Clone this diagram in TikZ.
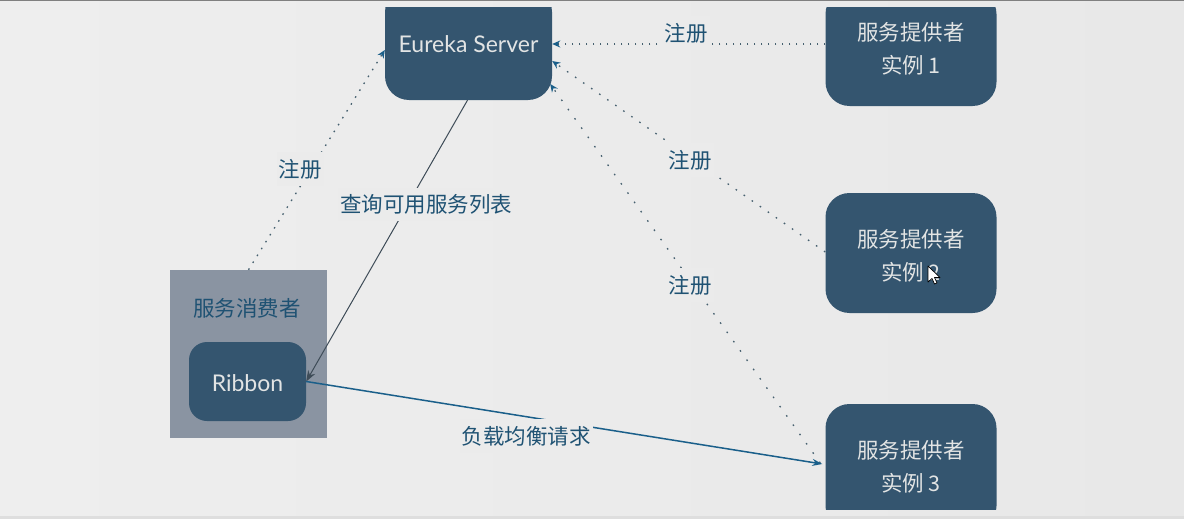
\documentclass[tikz,border=0pt]{standalone}
\usepackage{fontspec}
\setmainfont{Lato}
\newfontfamily\cjk{Noto Sans CJK SC}
\usetikzlibrary{arrows.meta}
\definecolor{boxblue}{HTML}{34556F}
\definecolor{inkblue}{HTML}{1F5273}
\definecolor{arrowblue}{HTML}{1A5F8A}
\definecolor{greybox}{HTML}{8A94A2}
\definecolor{pageleft}{HTML}{EEEEEE}
\definecolor{pageright}{HTML}{E8E8E8}
\definecolor{pagemid}{HTML}{EBEBEB}
\definecolor{boxtext}{HTML}{E2E4E4}
\definecolor{dotcol}{HTML}{46606F}
\definecolor{solidcol}{HTML}{3E4C58}
\tikzset{
  x=1pt,y=-1pt,
  box/.style={fill=boxblue,rounded corners=24pt,inner sep=0pt,align=center,text=boxtext,font=\fontsize{21.5}{33}\selectfont\cjk,minimum width=171pt},
  lat/.style={font=\fontsize{23}{27}\selectfont},
  lab/.style={text=inkblue,font=\fontsize{21.5}{25}\selectfont\cjk,inner xsep=2pt,inner ysep=0pt},
  cover/.style={lab,fill=pagemid,minimum height=33.5pt},
  dotline/.style={line width=1.5pt,draw=dotcol,-{Stealth[length=8pt,width=7pt,color=arrowblue]}},
}
\begin{document}
\begin{tikzpicture}
\useasboundingbox (0,0) rectangle (1184,519);
\shade[left color=pageleft,right color=pageright] (0,0) rectangle (1184,519);
\fill[black!50] (0,0) rectangle (1184,1.5);
\fill[black!13] (0,516) rectangle (1184,519);
% grey consumer box
\node[fill=greybox,minimum width=157pt,minimum height=168pt,inner sep=0pt] (consumer) at (248.5,354) {};
\node[lab,inner sep=0pt] (consumertxt) at (247,308) {服务消费者};
\node[box,lat,minimum width=117pt,minimum height=79pt,rounded corners=18pt,text height=21pt] (ribbon) at (247.5,381.5) {Ribbon};
\begin{scope}
\clip (0,8) rectangle (1184,509);
\node[box,lat,minimum width=167pt,minimum height=112pt] (eureka) at (468.5,44) {Eureka Server};
\node[box,minimum height=116pt] (prov1) at (911,48) {\rule{0pt}{20pt}服务提供者\\实例 1};
\node[box,minimum height=120pt] (prov2) at (911,253) {\rule{0pt}{23pt}服务提供者\\实例 2};
\node[box,minimum height=126pt] (prov3) at (911,467) {服务提供者\\实例 3};
\end{scope}
% connectors
\draw[dotline,dash pattern=on 1.6pt off 5.4pt] ([yshift=4pt]prov1.west) -- (eureka.east);
\draw[dotline,line width=1.3pt,dash pattern=on 1.6pt off 8.2pt] ([yshift=1pt]prov2.west) -- ([yshift=-17pt]eureka.east);
\draw[dotline,line width=1.3pt,dash pattern=on 1.6pt off 9.8pt] ([xshift=-5pt,yshift=4pt]prov3.west) -- ([xshift=-2pt,yshift=-40pt]eureka.east);
\draw[dotline,line width=1.3pt,dash pattern=on 1.6pt off 6.5pt] (consumer.north) -- ([yshift=-6pt]eureka.west);
\draw[line width=1pt,draw=solidcol,-{Stealth[length=11pt,width=8pt]}] ([xshift=-1pt]eureka.south) -- (ribbon.east);
\draw[line width=1.5pt,draw=arrowblue,-{Stealth[length=10pt,width=7pt]}] (ribbon.east) -- ([xshift=-3pt,yshift=3pt]prov3.west);
% labels
\node[cover] (l1) at (686,33) {注册};
\node[cover] (l2) at (690,160) {注册};
\node[cover] (l3) at (690,285) {注册};
\node[cover] (l4) at (300,169) {注册};
\node[cover] (l5) at (426,204.5) {查询可用服务列表};
\node[cover] (l6) at (526,436) {负载均衡请求};
% mouse pointer
\draw[fill=white,draw=black,line width=.7pt,line join=round] (928,266) -- (928,282) -- (932,278.5) -- (934.5,284) -- (937,283) -- (934.5,277.5) -- (940,277.5) -- cycle;
\end{tikzpicture}
\end{document}
